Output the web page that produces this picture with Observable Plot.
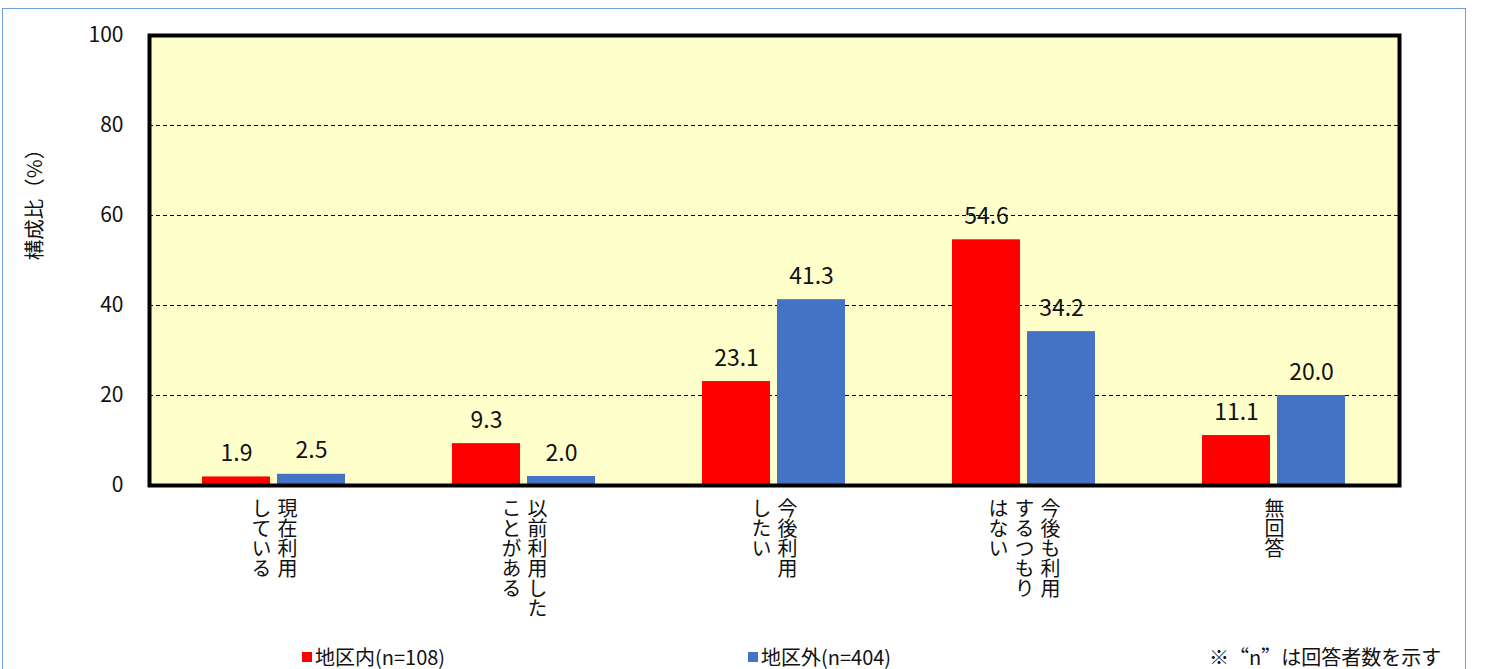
<!DOCTYPE html>
<html lang="ja">
<head>
<meta charset="utf-8">
<script src="https://cdn.jsdelivr.net/npm/d3@7"></script>
<script src="https://cdn.jsdelivr.net/npm/@observablehq/plot@0.6"></script>
<style>
  html, body { margin: 0; padding: 0; background: #fff; overflow: hidden; }
  #chart { position: relative; width: 1485px; height: 669px; }
  #border { position: absolute; left: 2px; top: 8px; width: 1464px; height: 720px;
            border: 1.5px solid #6f9fd8; box-sizing: border-box; pointer-events: none; }
  #chart svg { position: absolute; left: 0; top: 0; }
  /* answer labels are set in vertical Japanese */
  .vlabel text { writing-mode: vertical-rl; text-orientation: upright; }
  .legend-item { position: absolute; top: 645px; display: flex; align-items: center;
                 font-family: "Noto Sans CJK JP", sans-serif;
                 font-size: 20px; color: #111; line-height: 24px; white-space: nowrap; }
  .legend-item .sw { width: 10px; height: 10px; margin-right: 3px; }
  #note { position: absolute; left: 1209px; top: 645px; line-height: 24px;
          font-family: "Noto Sans CJK JP", sans-serif;
          font-size: 20px; color: #111; white-space: nowrap; }
  #note .fw { font-feature-settings: "fwid" 1; }
</style>
</head>
<body>
<div id="chart"><div id="border"></div></div>
<script>
// Survey answers (vertical labels, one entry per column, read right to left)
const categoryLines = [
  ["現在利用", "している"],
  ["以前利用した", "ことがある"],
  ["今後利用", "したい"],
  ["今後も利用", "するつもり", "はない"],
  ["無回答"]
];
const categories = categoryLines.map(lines => lines.join(""));

// Respondent groups
const series = ["地区内(n=108)", "地区外(n=404)"];
const seriesColors = ["#FF0000", "#4472C4"];

// Share of respondents (%)
const valuesInside  = [1.9, 9.3, 23.1, 54.6, 11.1];
const valuesOutside = [2.5, 2.0, 41.3, 34.2, 20.0];

const yTicks = [0, 20, 40, 60, 80, 100];
const gridTicks = [20, 40, 60, 80];
const yTitle = "構成比（%）";
const footnote = "※“n”は回答者数を示す";

const rows = categories.flatMap((c, i) => [
  {category: c, series: series[0], value: valuesInside[i]},
  {category: c, series: series[1], value: valuesOutside[i]}
]);

// one text per vertical column; offset is the column's place around the group centre
const labelCols = categories.flatMap((c, i) => {
  const n = categoryLines[i].length;
  return categoryLines[i].map((line, j) => ({
    category: c,
    text: line,
    offset: (n - 1) / 2 - j
  }));
});
const offsets = [...new Set(labelCols.map(d => d.offset))];
const colGap = 26;

const jpFont = "'Noto Sans CJK JP', sans-serif";
const numFont = "'Liberation Sans Narrow', 'Arial Narrow', 'Noto Sans CJK JP', sans-serif";

const chart = Plot.plot({
  width: 1485,
  height: 669,
  marginLeft: 149,
  marginRight: 86,
  marginTop: 35,
  marginBottom: 184,
  style: {background: "transparent", color: "#111"},
  fx: {domain: categories, padding: 0, axis: null},
  x: {domain: series, paddingInner: 0.0921, paddingOuter: 0.6908, axis: null},
  y: {domain: [0, 100], axis: null},
  color: {domain: series, range: seriesColors},
  marks: [
    Plot.frame({facet: "super", fill: "#FFFFCC", stroke: null}),
    Plot.ruleY(gridTicks, {stroke: "#000", strokeWidth: 1, strokeDasharray: "4 3"}),
    Plot.barY(rows, {fx: "category", x: "series", y: "value", fill: "series"}),
    Plot.text(rows, {
      fx: "category", x: "series", y: "value",
      text: d => d.value.toFixed(1),
      dy: -16, lineAnchor: "bottom",
      fontFamily: numFont, fontSize: 23, letterSpacing: 1.5, fill: "#111"
    }),
    ...offsets.map(o => Plot.text(labelCols.filter(d => d.offset === o), {
      fx: "category", text: "text",
      frameAnchor: "bottom", dx: o * colGap, dy: 13,
      textAnchor: "start", lineAnchor: "bottom",
      className: "vlabel",
      fontFamily: jpFont, fontSize: 20, letterSpacing: 0.6, fill: "#111"
    })),
    Plot.axisY({
      ticks: yTicks, tickSize: 0, tickPadding: 26, label: null,
      fontFamily: numFont, fontSize: 21
    }),
    Plot.text([yTitle], {
      facet: "super", frameAnchor: "left", dx: -114, dy: -61, rotate: -90,
      textAnchor: "middle",
      fontFamily: jpFont, fontSize: 20.5, fill: "#111"
    }),
    Plot.frame({facet: "super", stroke: "#000", strokeWidth: 4})
  ]
});

const root = document.getElementById("chart");
root.insertBefore(chart, root.firstChild);

// legend
const legendLeft = [302, 748];
series.forEach((s, i) => {
  const item = document.createElement("div");
  item.className = "legend-item";
  item.style.left = legendLeft[i] + "px";
  const sw = document.createElement("span");
  sw.className = "sw";
  sw.style.background = seriesColors[i];
  const label = document.createElement("span");
  label.textContent = s;
  item.append(sw, label);
  root.appendChild(item);
});

// footnote, with the quotation marks in full-width form
const note = document.createElement("div");
note.id = "note";
for (const ch of footnote) {
  if (ch === "“" || ch === "”") {
    const q = document.createElement("span");
    q.className = "fw";
    q.textContent = ch;
    note.appendChild(q);
  } else {
    note.appendChild(document.createTextNode(ch));
  }
}
root.appendChild(note);
</script>
</body>
</html>
